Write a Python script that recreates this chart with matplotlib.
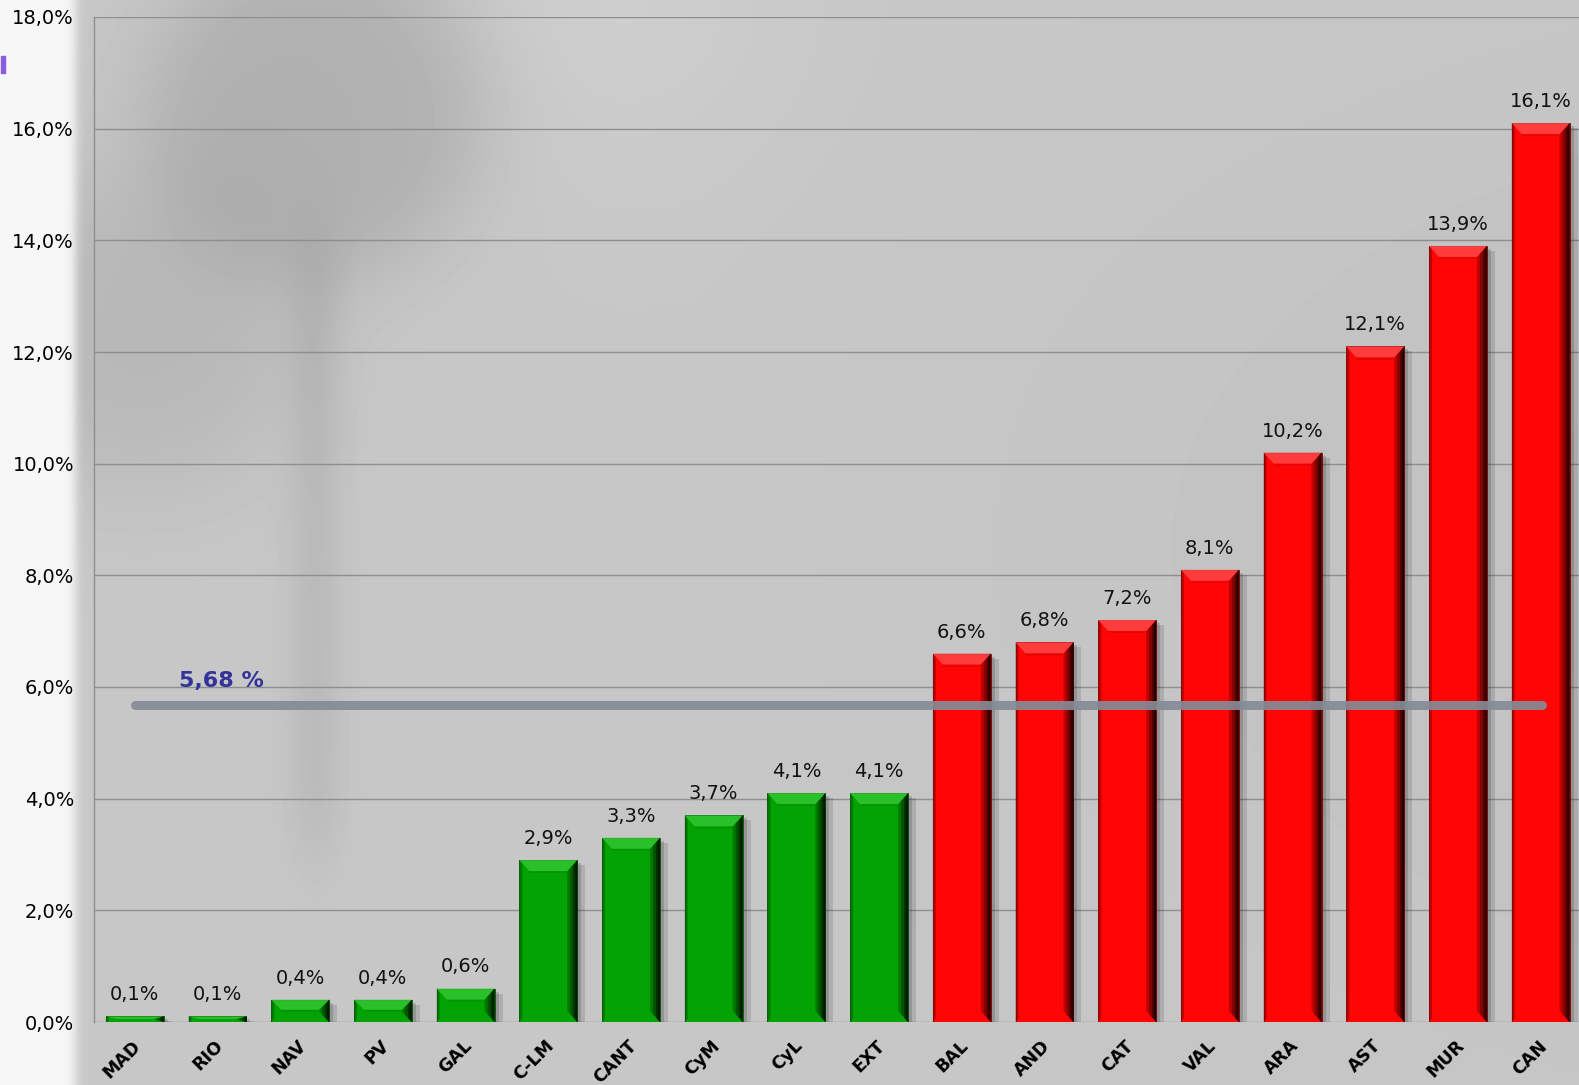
import numpy as np
import matplotlib
matplotlib.use("Agg")
import matplotlib.pyplot as plt
import matplotlib.transforms as mtrans
from matplotlib.patches import Polygon, Rectangle

# data
regions = ["MAD", "RIO", "NAV", "PV", "GAL", "C-LM", "CANT", "CyM", "CyL", "EXT",
           "BAL", "AND", "CAT", "VAL", "ARA", "AST", "MUR", "CAN"]
values = [0.1, 0.1, 0.4, 0.4, 0.6, 2.9, 3.3, 3.7, 4.1, 4.1,
          6.6, 6.8, 7.2, 8.1, 10.2, 12.1, 13.9, 16.1]
mean_value = 5.68
mean_label = "5,68 %"
yticks = [0, 2, 4, 6, 8, 10, 12, 14, 16, 18]

W, H = 1579, 1085
fig = plt.figure(figsize=(W / 100, H / 100), dpi=100)

# background picture (soft blurred shapes)
yy, xx = np.mgrid[0:H, 0:W]
bg = np.full((H, W), 0.78)
def blob(cx, cy, r, amt, soft):
    d = np.sqrt((xx - cx) ** 2 + (yy - cy) ** 2)
    return amt / (1 + np.exp((d - r) / soft))
bg -= blob(315, 110, 165, 0.09, 25)
bg -= blob(140, 330, 150, 0.06, 35)
stem = np.exp(-((xx - 315) / 28.0) ** 2) * (1 / (1 + np.exp((yy - 850) / 25))) * (1 / (1 + np.exp(-(yy - 250) / 25)))
bg -= 0.05 * stem
bg += blob(620, 0, 120, 0.03, 60)
bg -= 0.02 * np.clip((xx - 700) / 900, 0, 1) * np.exp(-((yy - 550) / 500) ** 2)
left = 1 / (1 + np.exp((xx - 75) / 3.0))
bg = bg * (1 - left) + 0.965 * left
bg = np.clip(bg, 0, 1)
bgax = fig.add_axes([0, 0, 1, 1], zorder=-10)
bgax.imshow(bg, cmap="gray", vmin=0, vmax=1, aspect="auto", interpolation="bilinear")
bgax.axis("off")
bgax.add_patch(Rectangle((0, 55), 4, 17, color="#8a5ce0"))

x_left, x_right, y_top, y_bot = 93.5, 1582.0, 17.0, 1022.0
ax = fig.add_axes([x_left / W, 1 - y_bot / H, (x_right - x_left) / W, (y_bot - y_top) / H])
ax.patch.set_alpha(0)
ax.set_xlim(-0.5, len(regions) - 0.5)
ax.set_ylim(0, 18)

px = len(regions) / (x_right - x_left)   # x units per pixel
py = 18.0 / (y_bot - y_top)              # y units per pixel
bw = 0.7

def bevel_bar(i, h, col, dark, light):
    x0, x1 = i - bw / 2, i + bw / 2
    # shadow
    ax.add_patch(Rectangle((x1, 0), 8 * px, h - 5 * py, color="black", alpha=0.12, lw=0, zorder=2))
    ax.add_patch(Rectangle((x1, 0), 4 * px, h - 3 * py, color="black", alpha=0.15, lw=0, zorder=2))
    ax.bar(i, h, width=bw, color=col, edgecolor=dark, linewidth=0.6, zorder=3)
    b = min(11 * py, h * 0.45)
    # right dark edge, graded
    for k, a in zip([10, 7, 4, 2], [0.25, 0.3, 0.4, 0.5]):
        s = k * px
        ax.add_patch(Polygon([(x1 - s, b * k / 10), (x1, 0), (x1, h), (x1 - s, h - b * k / 10)],
                             closed=True, color="black", lw=0, alpha=a, zorder=4))
    # left edge
    ax.add_patch(Polygon([(x0, 0), (x0 + 3 * px, b * 0.3), (x0 + 3 * px, h - b * 0.3), (x0, h)],
                         closed=True, color=dark, lw=0, alpha=0.5, zorder=4))
    # top bevel
    s = 10 * px
    ax.add_patch(Polygon([(x0, h), (x1, h), (x1 - s, h - b), (x0 + s, h - b)], closed=True,
                         color=light, lw=0, alpha=0.8, zorder=5))
    ax.add_patch(Polygon([(x0 + s, h - b), (x1 - s, h - b), (x1 - s, h - b * 1.2), (x0 + s, h - b * 1.2)],
                         closed=True, color=dark, lw=0, alpha=0.15, zorder=5))

for i, (r, v) in enumerate(zip(regions, values)):
    if v < mean_value:
        bevel_bar(i, v, "#03a303", "#015201", "#35c835")
    else:
        bevel_bar(i, v, "#ff0505", "#7a0000", "#ff4b4b")
    ax.text(i, v + 12 * py, f"{v:.1f}%".replace(".", ","), ha="center", va="bottom",
            fontsize=14, color="#111111", zorder=8)

ax.plot([0.0, 17.02], [mean_value, mean_value], color="#858b96", lw=6.5,
        solid_capstyle="round", alpha=0.92, zorder=6)
ax.text(1.05, mean_value + 0.25, mean_label, ha="center", va="bottom", fontsize=16,
        fontweight="bold", color="#33339a", zorder=8)

ax.set_yticks(yticks)
ax.set_yticklabels([f"{t:.1f}%".replace(".", ",") for t in yticks], fontsize=14)
ax.yaxis.grid(True, color="#8e8e8e", lw=1.0, zorder=0)
ax.set_axisbelow(True)
ax.tick_params(axis="y", length=0, pad=14)
ax.tick_params(axis="x", length=0, pad=2)
ax.set_xticks(range(len(regions)))
ax.set_xticklabels(regions, rotation=45, ha="right", va="top", rotation_mode="anchor",
                   fontsize=12.5, fontweight="bold")
off = mtrans.ScaledTranslation(-3 / 100, -12 / 100, fig.dpi_scale_trans)
for lbl in ax.get_xticklabels():
    lbl.set_transform(lbl.get_transform() + off)

for side in ["top", "right", "bottom"]:
    ax.spines[side].set_visible(False)
ax.spines["left"].set_color("#8e8e8e")
ax.spines["left"].set_linewidth(1.0)

fig.savefig("out.png", dpi=100)
